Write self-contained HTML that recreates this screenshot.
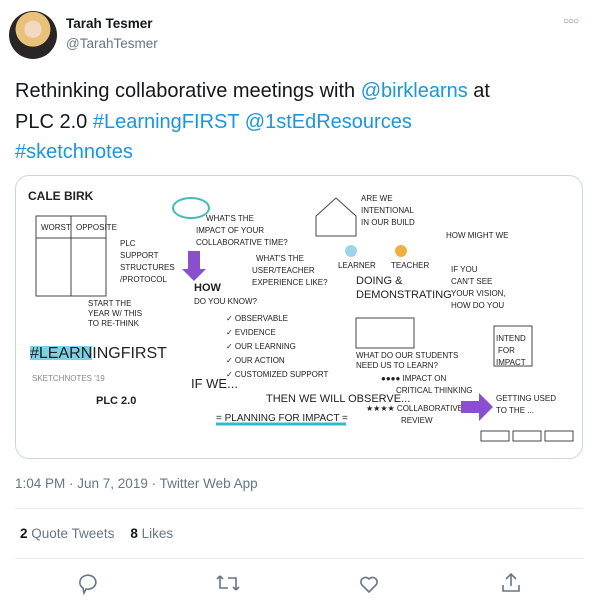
<!DOCTYPE html>
<html><head><meta charset="utf-8"><style>
body{margin:0;width:598px;height:606px;background:#fff;font-family:"Liberation Sans",sans-serif;position:relative;overflow:hidden}
.a{position:absolute}
.blue{color:#1b95e0}
</style></head><body>
<div class="a" style="left:9px;top:11px;width:48px;height:48px;border-radius:50%;background:radial-gradient(circle at 50% 38%,#f3d8c2 0 22%,#e8c27a 23% 45%,#2a2626 46%);"></div>
<div class="a" style="left:66px;top:16px;font-weight:bold;font-size:13.5px;color:#14171a">Tarah Tesmer</div>
<div class="a" style="left:66px;top:36px;font-size:13.5px;color:#657786">@TarahTesmer</div>
<div class="a" style="left:563px;top:16px;font-size:10px;color:#657786;letter-spacing:-1px">○○○</div>
<div class="a" style="left:15px;top:76px;width:570px;font-size:20px;line-height:30.5px;color:#14171a">Rethinking collaborative meetings with <span class="blue">@birklearns</span> at<br>PLC 2.0 <span class="blue">#LearningFIRST</span> <span class="blue">@1stEdResources</span><br><span class="blue">#sketchnotes</span></div>
<div class="a" style="left:15px;top:175px;width:566px;height:282px;border:1px solid #ccd6dd;border-radius:14px;overflow:hidden;background:#fff">
<svg width="566" height="282" font-family="Liberation Sans,sans-serif" fill="#222" font-size="8">
<text x="12" y="24" font-size="12" font-weight="bold">CALE BIRK</text>
<rect x="20" y="40" width="70" height="80" fill="none" stroke="#444"/>
<line x1="55" y1="40" x2="55" y2="120" stroke="#444"/><line x1="20" y1="62" x2="90" y2="62" stroke="#444"/>
<text x="25" y="54">WORST</text><text x="60" y="54">OPPOSITE</text>
<text x="104" y="70">PLC</text><text x="104" y="82">SUPPORT</text><text x="104" y="94">STRUCTURES</text><text x="104" y="106">/PROTOCOL</text>
<text x="72" y="130">START THE</text><text x="72" y="140">YEAR W/ THIS</text><text x="72" y="150">TO RE-THINK</text>
<rect x="14" y="170" width="62" height="14" fill="#7ed0e6"/>
<text x="14" y="182" font-size="16">#LEARNINGFIRST</text>
<text x="16" y="205" fill="#888">SKETCHNOTES '19</text>
<text x="80" y="228" font-size="11" font-weight="bold">PLC 2.0</text>
<ellipse cx="175" cy="32" rx="18" ry="10" fill="none" stroke="#4bb" stroke-width="2"/>
<text x="190" y="45">WHAT'S THE</text><text x="180" y="57">IMPACT OF YOUR</text><text x="180" y="69">COLLABORATIVE TIME?</text>
<path d="M172 75 v18 h-6 l12 12 l12 -12 h-6 v-18z" fill="#8a4fd0"/>
<text x="178" y="115" font-size="11" font-weight="bold">HOW</text><text x="178" y="128">DO YOU KNOW?</text>
<text x="240" y="85">WHAT'S THE</text><text x="236" y="97">USER/TEACHER</text><text x="236" y="109">EXPERIENCE LIKE?</text>
<text x="210" y="145">✓ OBSERVABLE</text><text x="210" y="159">✓ EVIDENCE</text><text x="210" y="173">✓ OUR LEARNING</text><text x="210" y="187">✓ OUR ACTION</text><text x="210" y="201">✓ CUSTOMIZED SUPPORT</text>
<path d="M300 40 l20 -18 l20 18 v20 h-40z" fill="none" stroke="#444"/>
<text x="345" y="25">ARE WE</text><text x="345" y="37">INTENTIONAL</text><text x="345" y="49">IN OUR BUILD</text>
<circle cx="335" cy="75" r="6" fill="#9fd3e8"/><circle cx="385" cy="75" r="6" fill="#f0b040"/>
<text x="322" y="92">LEARNER</text><text x="375" y="92">TEACHER</text>
<text x="340" y="108" font-size="11">DOING &amp;</text><text x="340" y="122" font-size="11">DEMONSTRATING</text>
<rect x="340" y="142" width="58" height="30" fill="none" stroke="#444"/>
<text x="340" y="182">WHAT DO OUR STUDENTS</text><text x="340" y="192">NEED US TO LEARN?</text>
<text x="430" y="62">HOW MIGHT WE</text>
<text x="435" y="96">IF YOU</text><text x="435" y="108">CAN'T SEE</text><text x="435" y="120">YOUR VISION,</text><text x="435" y="132">HOW DO YOU</text>
<rect x="478" y="150" width="38" height="40" fill="none" stroke="#444"/>
<text x="480" y="165">INTEND</text><text x="482" y="177">FOR</text><text x="480" y="189">IMPACT</text>
<text x="175" y="212" font-size="13">IF WE...</text>
<text x="250" y="226" font-size="11">THEN WE WILL OBSERVE...</text>
<text x="200" y="245" font-size="10">= PLANNING FOR IMPACT =</text>
<line x1="200" y1="248" x2="330" y2="248" stroke="#3bc" stroke-width="3"/>
<text x="365" y="205">●●●● IMPACT ON</text><text x="380" y="217">CRITICAL THINKING</text>
<text x="350" y="235">★★★★ COLLABORATIVE TEAM</text><text x="385" y="247">REVIEW</text>
<path d="M445 225 h18 v-8 l14 14 l-14 14 v-8 h-18z" fill="#8a4fd0"/>
<text x="480" y="225">GETTING USED</text><text x="480" y="237">TO THE ...</text>
<rect x="465" y="255" width="28" height="10" fill="none" stroke="#444"/><rect x="497" y="255" width="28" height="10" fill="none" stroke="#444"/><rect x="529" y="255" width="28" height="10" fill="none" stroke="#444"/>
</svg></div>
<div class="a" style="left:15px;top:476px;font-size:13.5px;color:#657786">1:04 PM · Jun 7, 2019 · Twitter Web App</div>
<div class="a" style="left:15px;top:508px;width:568px;height:1px;background:#e6ecf0"></div>
<div class="a" style="left:20px;top:526px;font-size:13.5px;color:#657786"><span><b style="color:#14171a">2</b> Quote Tweets</span><span style="margin-left:16px"><b style="color:#14171a">8</b> Likes</span></div>
<div class="a" style="left:15px;top:558px;width:568px;height:1px;background:#e6ecf0"></div>
<svg class="a" style="left:0;top:568px" width="598" height="30" fill="none" stroke="#657786" stroke-width="1.6">
<g><path d="M80 13 a8 7 0 1 1 6 8 l-2 4 l-1 -5 a8 7 0 0 1 -3 -7z"/></g>
<g><path d="M220 8 l-3 3 M220 8 l3 3 M220 8 v12 h8 M236 22 l-3 -3 M236 22 l3 -3 M236 22 v-12 h-8"/></g>
<g><path d="M369 24 l-7 -7 a4 4 0 0 1 7 -6 a4 4 0 0 1 7 6z"/></g>
<g><path d="M511 6 v12 M506 11 l5 -5 l5 5 M503 17 v6 h16 v-6"/></g>
</svg>
</body></html>
